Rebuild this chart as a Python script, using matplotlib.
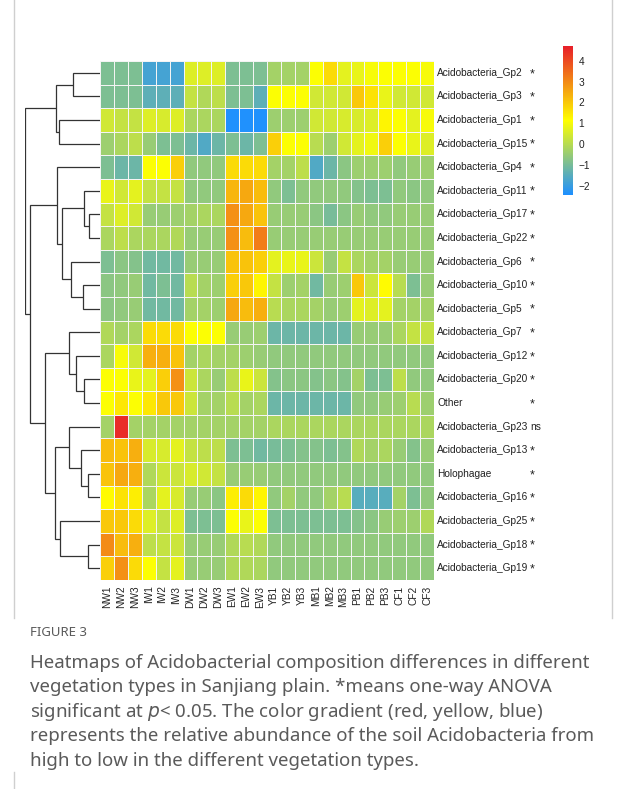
import matplotlib
matplotlib.use("Agg")
import matplotlib.pyplot as plt
import numpy as np
from matplotlib.colors import LinearSegmentedColormap
from matplotlib.transforms import blended_transform_factory

# ---------------- data ----------------
samples = ["NW1", "NW2", "NW3", "IW1", "IW2", "IW3", "DW1", "DW2", "DW3",
           "EW1", "EW2", "EW3", "YB1", "YB2", "YB3", "MB1", "MB2", "MB3",
           "PB1", "PB2", "PB3", "CF1", "CF2", "CF3"]

taxa = ["Acidobacteria_Gp2", "Acidobacteria_Gp3", "Acidobacteria_Gp1",
        "Acidobacteria_Gp15", "Acidobacteria_Gp4", "Acidobacteria_Gp11",
        "Acidobacteria_Gp17", "Acidobacteria_Gp22", "Acidobacteria_Gp6",
        "Acidobacteria_Gp10", "Acidobacteria_Gp5", "Acidobacteria_Gp7",
        "Acidobacteria_Gp12", "Acidobacteria_Gp20", "Other",
        "Acidobacteria_Gp23", "Acidobacteria_Gp13", "Holophagae",
        "Acidobacteria_Gp16", "Acidobacteria_Gp25", "Acidobacteria_Gp18",
        "Acidobacteria_Gp19"]

significance = ["*", "*", "*", "*", "*", "*", "*", "*", "*", "*", "*", "*",
                "*", "*", "*", "ns", "*", "*", "*", "*", "*", "*"]

row_Gp2 = [-0.9, -0.9, -0.9, -1.8, -1.8, -1.8, 0.6, 0.6, 0.6, -0.9, -0.9, -0.9,
           -0.3, -0.3, -0.3, 1.1, 1.7, 0.7, 0.8, 1.0, 1.1, 1.1, 1.1, 1.0]
row_Gp3 = [-0.9, -0.9, -0.9, -1.4, -1.4, -1.4, 0.2, -0.1, 0.1, -0.9, -0.9, -1.4,
           1.1, 1.1, 1.1, 0.4, 0.4, 0.4, 2.0, 1.6, 0.8, 0.4, 0.4, 0.4]
row_Gp1 = [0.4, 0.2, 0.2, 0.6, 0.5, 0.6, -0.2, -0.2, -0.2, -2.4, -2.4, -2.4,
           -0.4, -0.4, -0.4, 0.4, 0.4, 0.5, 0.5, 0.6, 1.3, 1.1, 0.7, 1.0]
row_Gp15 = [-0.4, -0.2, 0.1, -0.5, -0.9, -0.9, -1.2, -1.6, -1.2, -0.9, -1.2, -0.9,
            1.9, 1.1, 1.1, 0.0, -0.4, 0.4, 0.7, 0.9, 1.9, 1.1, 0.8, 0.6]
row_Gp4 = [-0.9, -1.2, -1.2, 1.1, 1.1, 1.9, -0.6, -0.6, -0.6, 1.7, 1.7, 1.7,
           -0.3, -0.3, 0.1, -1.6, -1.2, -0.7, -0.4, -0.4, -0.4, -0.6, -0.5, -0.4]
row_Gp11 = [0.8, 0.4, 0.7, 0.2, 0.2, 0.2, -0.6, -0.6, -0.6, 2.3, 2.5, 2.2,
            -0.6, -0.9, -0.6, -0.6, -0.6, -0.6, -0.8, -0.9, -0.9, -0.6, -0.7, -0.6]
row_Gp17 = [0.2, 0.6, 0.4, -0.5, -0.5, -0.4, -0.3, -0.2, -0.2, 2.9, 2.5, 2.1,
            -0.5, -0.5, -0.5, -0.7, -1.0, -0.7, -0.5, -0.6, -0.6, -0.5, -0.5, -0.5]
row_Gp22 = [-0.2, 0.1, -0.2, -0.2, -0.2, -0.1, -0.5, -0.5, -0.5, 2.9, 2.2, 3.2,
            -0.5, -0.5, -0.5, -0.5, -0.5, -0.5, -0.5, -0.5, -0.5, -0.5, -0.5, -0.5]
row_Gp6 = [-0.9, -0.7, -0.8, -1.1, -1.1, -1.1, -0.5, -0.5, -0.5, 2.1, 2.1, 1.9,
           0.7, 0.8, 0.8, 0.3, -0.5, 0.2, -0.2, -0.3, -0.3, -0.5, -0.5, -0.5]
row_Gp10 = [-0.7, -0.6, -0.5, -1.1, -0.9, -1.1, 0.0, -0.3, -0.4, 1.9, 2.0, 1.3,
            0.2, -0.4, -0.3, -1.1, -0.5, -0.4, 2.0, 0.3, 1.2, 0.0, -0.9, -0.5]
row_Gp5 = [-0.7, -0.6, -0.5, -1.1, -1.1, -1.1, -0.3, -0.3, -0.4, 2.5, 2.2, 2.4,
           0.0, -0.2, -0.2, -0.3, -0.5, -0.4, 0.7, 0.6, 0.7, -0.3, -0.3, -0.3]
row_Gp7 = [-0.1, -0.3, -0.2, 1.7, 1.7, 1.7, 1.1, 1.1, 1.1, -0.5, -0.5, -0.4,
           -1.2, -1.2, -1.2, -1.2, -1.2, -1.2, -0.5, -0.5, -0.5, -0.2, 0.2, 0.2]
row_Gp12 = [-0.2, 1.0, 0.4, 2.4, 2.4, 2.1, -0.3, -0.2, -0.3, -0.3, -0.4, -0.5,
            -0.6, -0.6, -0.6, -0.6, -0.6, -0.6, -0.6, -0.6, -0.6, -0.6, -0.6, -0.6]
row_Gp20 = [1.1, 1.1, 0.8, 0.7, 1.9, 2.9, 0.3, -0.2, -0.5, 0.1, 0.8, 0.3,
            -0.8, -0.7, -0.7, -0.8, -0.7, -0.8, -0.3, -0.9, -0.9, 0.1, -0.6, -0.6]
row_Other = [1.1, 1.5, 1.1, 1.5, 2.0, 2.0, 0.3, -0.3, -0.3, 0.0, -0.3, -0.2,
             -1.2, -1.2, -1.2, -1.2, -1.2, -1.2, -0.6, -0.6, -0.5, -0.4, 0.0, -0.4]
row_Gp23 = [-0.3, 4.5, -0.3, -0.3, -0.3, -0.3, -0.3, -0.3, -0.3, -0.3, -0.3, -0.3,
            -0.2, -0.2, -0.2, -0.2, -0.2, -0.2, -0.2, -0.2, -0.2, -0.2, -0.2, -0.2]
row_Gp13 = [2.2, 2.1, 2.4, 0.5, 0.5, 0.7, 0.2, 0.1, 0.1, -0.9, -0.9, -1.1,
            -1.0, -0.9, -0.8, -0.8, -0.9, -0.8, -0.1, -0.3, -0.2, -0.5, -0.8, -0.5]
row_Holo = [2.1, 2.5, 2.4, -0.1, 0.3, 0.3, 0.5, 0.4, 0.2, -0.5, -0.5, -0.5,
            -0.6, -0.6, -0.6, -0.6, -0.6, -0.6, -0.6, -0.6, -0.6, -0.6, -0.6, -0.6]
row_Gp16 = [1.2, 1.6, 1.4, -0.2, 0.7, 0.5, -0.5, -0.5, -0.7, 1.4, 1.7, 1.3,
            -0.6, -0.3, -0.6, -0.6, -0.3, 0.0, -1.5, -1.5, -1.5, -0.3, -0.9, -0.6]
row_Gp25 = [2.0, 2.0, 1.7, 0.6, 0.2, 0.6, -0.9, -0.9, -0.9, 1.1, 0.8, 1.1,
            -0.9, -0.9, -0.9, -0.9, -0.9, -0.9, -0.8, -0.7, -0.5, -0.4, -0.4, -0.1]
row_Gp18 = [3.0, 2.2, 2.4, 0.1, 0.2, 0.3, -0.5, -0.5, -0.5, -0.1, 0.0, -0.1,
            -0.6, -0.6, -0.6, -0.6, -0.6, -0.6, -0.6, -0.6, -0.6, -0.6, -0.6, -0.6]
row_Gp19 = [1.9, 2.9, 1.7, 1.1, 0.2, 0.7, -0.5, -0.5, -0.5, -0.1, -0.1, -0.2,
            -0.6, -0.6, -0.6, -0.6, -0.6, -0.6, -0.6, -0.6, -0.6, -0.6, -0.6, -0.6]

# row dendrogram: [merge height, left child, right child]; ints are row indices
row_tree = [158,
            [92, [57, 0, 1], [85, 2, 3]],
            [147,
             [90, 4, [80, [33, 5, [23, 6, 7]], [60, 8, [35, 9, 10]]]],
             [115,
              [65, 11, [50, 12, [33, 13, 14]]],
              [95, [65, 15, [40, 16, [25, 17, 18]]], [83, 19, [25, 20, 21]]]]]]

legend_ticks = [-2, -1, 0, 1, 2, 3, 4]
value_min, value_max = -2.43, 4.7

caption_title = "FIGURE 3"
caption_lines = [
    "Heatmaps of Acidobacterial composition differences in different",
    "vegetation types in Sanjiang plain. *means one-way ANOVA",
    "significant at $\\it{p}$< 0.05. The color gradient (red, yellow, blue)",
    "represents the relative abundance of the soil Acidobacteria from",
    "high to low in the different vegetation types.",
]

# ---------------- figure ----------------
W, H = 624, 789
fig = plt.figure(figsize=(W / 100, H / 100), dpi=100)
fig.patch.set_facecolor("white")


def fx(px):
    return px / W


def fy(py):
    return 1 - py / H


matrix = np.array([row_Gp2, row_Gp3, row_Gp1, row_Gp15, row_Gp4, row_Gp11,
                   row_Gp17, row_Gp22, row_Gp6, row_Gp10, row_Gp5, row_Gp7,
                   row_Gp12, row_Gp20, row_Other, row_Gp23, row_Gp13, row_Holo,
                   row_Gp16, row_Gp25, row_Gp18, row_Gp19])

cmap = LinearSegmentedColormap.from_list(
    "byr", ["#1E90FF", "#FFFF00", "#E8202A"], N=256)

# heatmap
hm_l, hm_r, hm_t, hm_b = 100, 434, 61, 580
ax = fig.add_axes([fx(hm_l), fy(hm_b), fx(hm_r - hm_l), (hm_b - hm_t) / H])
nrow, ncol = matrix.shape
ax.pcolormesh(np.arange(ncol + 1), np.arange(nrow + 1), matrix, cmap=cmap,
              vmin=value_min, vmax=value_max, edgecolors="#f4f4f4",
              linewidth=0.45)
ax.set_xlim(0, ncol)
ax.set_ylim(nrow, 0)
for s in ax.spines.values():
    s.set_visible(False)
ax.set_xticks(np.arange(ncol) + 0.5)
ax.set_xticklabels(samples, rotation=90, fontsize=7.3,
                   family="Liberation Sans", color="#222222")
ax.tick_params(axis="x", length=0, pad=4)
ax.set_yticks([])

# row labels
tr = blended_transform_factory(fig.transFigure, ax.transData)
for i, (name, sig) in enumerate(zip(taxa, significance)):
    ax.text(fx(437), i + 0.5, name, transform=tr, ha="left", va="center",
            fontsize=7.3, family="Liberation Sans", color="#222222")
    ax.text(fx(530), i + 0.5 + (0.05 if sig == "*" else 0), sig,
            transform=tr, ha="left", va="center",
            fontsize=9 if sig == "*" else 7.3, family="Liberation Sans",
            color="#222222")

# dendrogram
dn_l = 25
axd = fig.add_axes([fx(dn_l), fy(hm_b), fx(hm_l - dn_l), (hm_b - hm_t) / H],
                   sharey=ax)
for s in axd.spines.values():
    s.set_visible(False)
axd.set_xticks([])
axd.tick_params(left=False, labelleft=False)


def draw(node):
    if isinstance(node, int):
        return node + 0.5, 0.0
    h, left, right = node
    y1, h1 = draw(left)
    y2, h2 = draw(right)
    axd.plot([h1, h, h, h2], [y1, y1, y2, y2], color="#333333", lw=0.9,
             solid_capstyle="butt", solid_joinstyle="miter")
    return (y1 + y2) / 2, h


draw(row_tree)
axd.set_xlim(row_tree[0] * 1.0, -1)
axd.set_ylim(nrow, 0)

# colour legend
cb_l, cb_t, cb_w, cb_h = 563, 46, 10, 149
axc = fig.add_axes([fx(cb_l), fy(cb_t + cb_h), fx(cb_w), cb_h / H])
grad = np.linspace(value_min, value_max, 200).reshape(-1, 1)
axc.imshow(grad, aspect="auto", cmap=cmap, vmin=value_min, vmax=value_max,
           origin="lower", extent=[0, 1, value_min, value_max])
axc.set_xticks([])
axc.yaxis.tick_right()
axc.set_yticks(legend_ticks)
axc.set_yticklabels([str(t).replace("-", "\u2212") for t in legend_ticks],
                    fontsize=7.3, family="Liberation Sans", color="#222222")
axc.tick_params(axis="y", length=0, pad=4)
for s in axc.spines.values():
    s.set_visible(False)

# frame lines (page figure box)
for xpx in (14, 612):
    fig.add_artist(plt.Line2D([fx(xpx), fx(xpx)], [fy(0), fy(618)],
                              color="#cfcfcf", lw=1))
fig.add_artist(plt.Line2D([fx(14), fx(14)], [fy(772), fy(789)],
                          color="#cfcfcf", lw=1))

# caption
fig.text(fx(30), fy(632), caption_title, fontsize=9.5, family="Noto Sans",
         color="#5a5a5a", ha="left", va="center")
for k, line in enumerate(caption_lines):
    fig.text(fx(30), fy(663 + k * 24.4), line, fontsize=13.45,
             family="Noto Sans", color="#5a5a5a", ha="left", va="center")

fig.savefig("out.png", dpi=100, facecolor="white")
